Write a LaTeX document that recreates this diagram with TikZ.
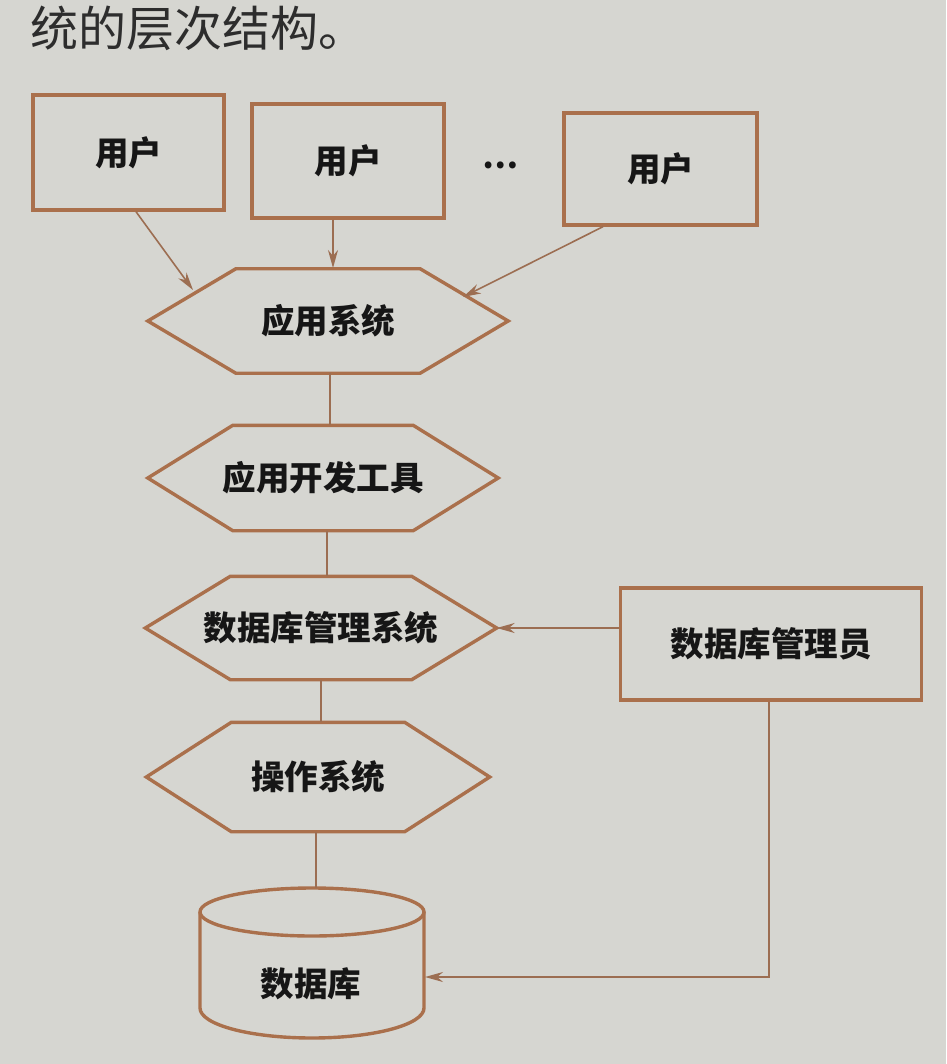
\documentclass[tikz,border=0pt]{standalone}
\usepackage{fontspec}
\newfontfamily\cjk{Noto Sans CJK SC}
\usetikzlibrary{arrows.meta,calc}
\definecolor{paper}{RGB}{214,214,209}
\definecolor{brd}{RGB}{170,112,76}
\definecolor{lnk}{RGB}{156,110,82}
\definecolor{ink}{RGB}{22,22,22}
\newcommand\hexdraw[2]{\draw[hexline] (#1.west) -- ($(#1.north west)+(#2,0)$) -- ($(#1.north east)+(-#2,0)$) -- (#1.east) -- ($(#1.south east)+(-#2,0)$) -- ($(#1.south west)+(#2,0)$) -- cycle;}
\begin{document}
\begin{tikzpicture}[x=1pt,y=-1pt,
  lbl/.style={font=\cjk\bfseries\fontsize{33.5}{33.5}\selectfont, text=ink},
  ubox/.style={draw=brd, line width=3.4pt, lbl, inner sep=0pt},
  hexn/.style={lbl, inner sep=0pt},
  hexline/.style={draw=brd, line width=3.4pt, line join=miter},
  conn/.style={draw=lnk, line width=1.6pt},
  arr/.style={conn, -{Stealth[length=18pt,width=10pt]}}]
\fill[paper] (0,0) rectangle (946,1064);
\useasboundingbox (0,0) rectangle (946,1064);

% heading text
\node[anchor=west, font=\cjk\fontsize{48}{48}\selectfont, text=ink!90, inner sep=0pt] (head) at (30,28) {统的层次结构。};

% users
\node[ubox, minimum width=191pt, minimum height=115pt] (u1) at (128.5,152.5) {用户};
\node[ubox, minimum width=192pt, minimum height=114pt] (u2) at (348,161) {用户};
\node[ubox, minimum width=193pt, minimum height=112pt] (u3) at (660.5,169) {用户};
\node[lbl, font=\cjk\bfseries\fontsize{32}{32}\selectfont] (dots) at (500,165) {…};

% hexagon layers
\node[hexn, minimum width=360pt, minimum height=104pt] (as) at (328,321) {应用系统};
\node[hexn, minimum width=350pt, minimum height=105pt] (adt) at (323,478) {应用开发工具};
\node[hexn, minimum width=351pt, minimum height=103pt] (dbms) at (321,628) {数据库管理系统};
\node[hexn, minimum width=343pt, minimum height=109pt] (os) at (318,777) {操作系统};
\hexdraw{as}{88}
\hexdraw{adt}{85}
\hexdraw{dbms}{85}
\hexdraw{os}{85}

% DBA
\node[ubox, minimum width=301pt, minimum height=112pt] (dba) at (771,644) {数据库管理员};

% database cylinder
\draw[hexline] (200,912) -- (200,1008) .. controls (200,1024.6) and (250,1038) .. (312,1038) .. controls (374,1038) and (424,1024.6) .. (424,1008) -- (424,912);
\draw[hexline] (312,912) ellipse [x radius=112, y radius=24];
\node[lbl] (db) at (311,984) {数据库};
\coordinate (dbtop) at (314,888);
\coordinate (dbin) at (425,977);

% arrow ends on application system
\coordinate (a1) at (193,290);
\coordinate (a2) at (333,268);
\coordinate (a3) at (463,297);

% connectors
\draw[arr] ([xshift=7.5pt]u1.south) -- (a1);
\draw[arr] ([xshift=-15pt]u2.south) -- (a2);
\draw[arr] ([xshift=-57.5pt]u3.south) -- (a3);
\draw[conn] ([xshift=2pt]as.south) -- ([xshift=2pt]as.south |- adt.north);
\draw[conn] ([xshift=4pt]adt.south) -- ([xshift=4pt]adt.south |- dbms.north);
\draw[conn] (dbms.south) -- (dbms.south |- os.north);
\draw[conn] ([xshift=-2pt]os.south) -- ([xshift=-2pt]os.south |- dbtop);
\draw[arr] (dba.west |- dbms.east) -- (dbms.east);
\draw[arr] ([xshift=-2pt]dba.south) |- (dbin);
\end{tikzpicture}
\end{document}
